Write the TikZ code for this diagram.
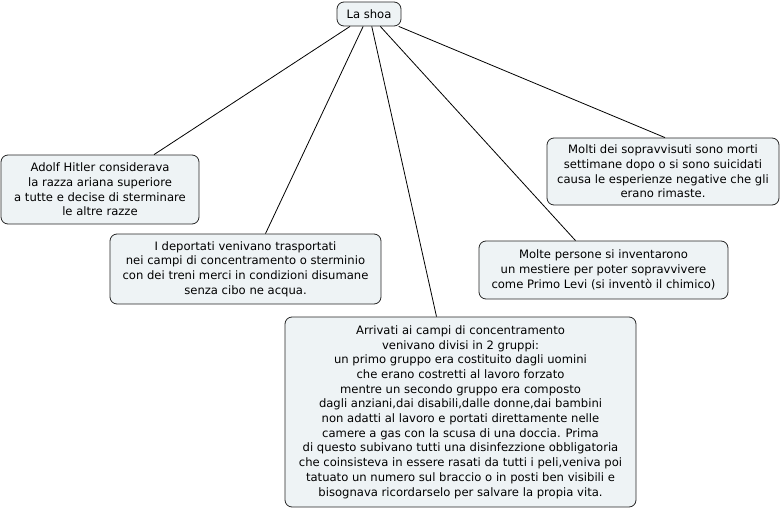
\documentclass[tikz,border=0pt]{standalone}
\usepackage{fontspec}
\setmainfont{DejaVu Sans}
\definecolor{boxfill}{HTML}{EEF3F5}

\begin{document}
\begin{tikzpicture}[x=1pt, y=-1pt,
	every node/.style={font=\fontsize{11.6}{14.7}\selectfont},
	idea/.style={draw=black!85, fill=boxfill, rounded corners=7pt, align=center, inner sep=2pt, line width=0.8pt},
	link/.style={draw=black, line width=0.8pt}]
	\useasboundingbox (0,0) rectangle (782,508);
	\node[idea, minimum width=64pt, minimum height=24pt] (shoa) at (369,14) {La shoa};
	\node[idea, minimum width=198pt, minimum height=69pt] (hitler) at (100,189.5)
		{Adolf Hitler considerava\\la razza ariana superiore\\a tutte e decise di sterminare\\le altre razze};
	\node[idea, minimum width=271pt, minimum height=70pt] (deport) at (245.5,269)
		{I deportati venivano trasportati\\nei campi di concentramento o sterminio\\con dei treni merci in condizioni disumane\\senza cibo ne acqua.};
	\node[idea, minimum width=351pt, minimum height=190pt] (campi) at (460.5,412)
		{Arrivati ai campi di concentramento\\venivano divisi in 2 gruppi:\\un primo gruppo era costituito dagli uomini\\che erano costretti al lavoro forzato\\mentre un secondo gruppo era composto\\dagli anziani,dai disabili,dalle donne,dai bambini\\non adatti al lavoro e portati direttamente nelle\\camere a gas con la scusa di una doccia. Prima\\di questo subivano tutti una disinfezzione obbligatoria\\che coinsisteva in essere rasati da tutti i peli,veniva poi\\tatuato un numero sul braccio o in posti ben visibili e\\bisognava ricordarselo per salvare la propia vita.};
	\node[idea, minimum width=232pt, minimum height=67pt] (morti) at (663,171.5)
		{Molti dei sopravvisuti sono morti\\settimane dopo o si sono suicidati\\causa le esperienze negative che gli\\erano rimaste.};
	\node[idea, minimum width=249pt, minimum height=58pt] (levi) at (603.5,270)
		{Molte persone si inventarono\\un mestiere per poter sopravvivere\\come Primo Levi (si inventò il chimico)};

	\draw[link] (shoa) -- ([xshift=54pt]hitler.north);
	\draw[link] (shoa) -- ([xshift=20pt]deport.north);
	\draw[link] (shoa) -- ([xshift=-24pt]campi.north);
	\draw[link] (shoa) -- ([xshift=-28pt]levi.north);
	\draw[link] (shoa) -- ([xshift=2pt]morti.north);
\end{tikzpicture}
\end{document}
